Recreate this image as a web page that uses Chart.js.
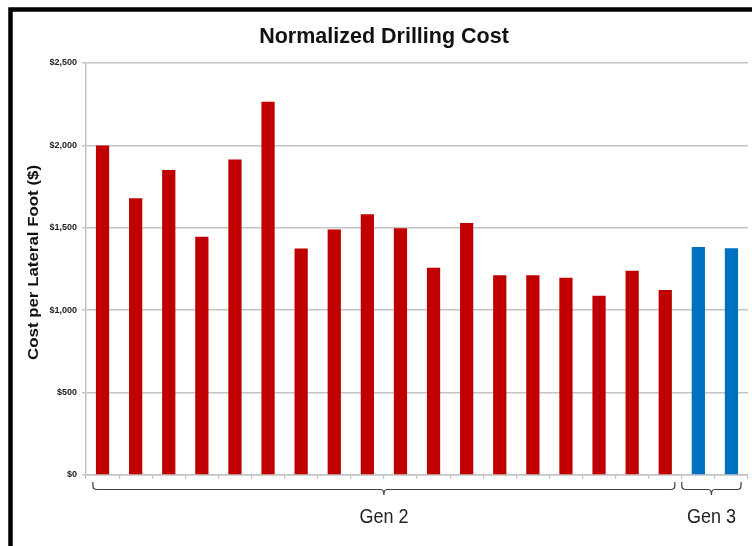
<!DOCTYPE html>
<html>
<head>
<meta charset="utf-8">
<script src="https://cdn.jsdelivr.net/npm/chart.js@4/dist/chart.umd.min.js"></script>
<style>
  html, body { margin: 0; padding: 0; background: #ffffff; }
  #wrap { width: 752px; height: 546px; }
</style>
</head>
<body>
<div id="wrap"><canvas id="c" width="752" height="546"></canvas></div>
<script>
// Normalized drilling cost per lateral foot, one bar per well
const wells = ['1', '2', '3', '4', '5', '6', '7', '8', '9', '10',
               '11', '12', '13', '14', '15', '16', '17', '18', '19', '20'];
const gen2Costs = [2000, 1680, 1850, 1445, 1915, 2265, 1375, 1490, 1582, 1498,
                   1258, 1529, 1212, 1212, 1197, 1088, 1240, 1123];
const gen3Costs = [1384, 1376];
const yTicks = [0, 500, 1000, 1500, 2000, 2500];
const groups = [
  { label: 'Gen 2', from: 0, to: 17 },
  { label: 'Gen 3', from: 18, to: 19 }
];

const GEN2_COLOR = '#C00000';
const GEN3_COLOR = '#0070C0';
const GRID = '#c4c4c4';

const costs = gen2Costs.concat(gen3Costs);
const barColors = costs.map((v, i) => i < gen2Costs.length ? GEN2_COLOR : GEN3_COLOR);

function money(v) {
  return '$' + v.toLocaleString('en-US');
}

// frame, titles and the generation brackets under the axis
const decorations = {
  id: 'decorations',
  beforeDraw(chart) {
    const ctx = chart.ctx;
    ctx.save();
    ctx.fillStyle = '#ffffff';
    ctx.fillRect(0, 0, chart.width, chart.height);
    ctx.restore();
  },
  afterDraw(chart) {
    const ctx = chart.ctx;
    const x = chart.scales.x;
    ctx.save();

    // black frame along top and left
    ctx.strokeStyle = '#000000';
    ctx.lineWidth = 4.5;
    ctx.beginPath();
    ctx.moveTo(10.5, 546);
    ctx.lineTo(10.5, 9.5);
    ctx.lineTo(752, 9.5);
    ctx.stroke();

    // chart title
    ctx.fillStyle = '#111111';
    ctx.font = 'bold 21.5px "Liberation Sans", Arial, sans-serif';
    ctx.textAlign = 'center';
    ctx.textBaseline = 'alphabetic';
    ctx.fillText('Normalized Drilling Cost', 384, 43);

    // y axis title, tall narrow lettering
    const yTitle = 'Cost per Lateral Foot ($)';
    ctx.font = 'bold 14px "Liberation Sans", Arial, sans-serif';
    const w = ctx.measureText(yTitle).width;
    ctx.save();
    ctx.translate(34, 262.5);
    ctx.rotate(-Math.PI / 2);
    ctx.scale(195 / w, 1);
    ctx.textBaseline = 'middle';
    ctx.fillStyle = '#111111';
    ctx.fillText(yTitle, 0, 0);
    ctx.restore();

    // brackets
    const step = x.getPixelForValue(1) - x.getPixelForValue(0);
    ctx.strokeStyle = '#404040';
    ctx.lineWidth = 1.2;
    const top = 482, mid = 489.5, tip = 495, r = 4;
    groups.forEach((g, gi) => {
      const left = x.getPixelForValue(g.from) - step * (gi === 0 ? 0.29 : 0.5);
      const right = x.getPixelForValue(g.to) + step * 0.29;
      const c = (left + right) / 2;
      ctx.beginPath();
      ctx.moveTo(left, top);
      ctx.lineTo(left, mid - r);
      ctx.quadraticCurveTo(left, mid, left + r, mid);
      ctx.lineTo(c - 3, mid);
      ctx.quadraticCurveTo(c, mid, c, tip);
      ctx.quadraticCurveTo(c, mid, c + 3, mid);
      ctx.lineTo(right - r, mid);
      ctx.quadraticCurveTo(right, mid, right, mid - r);
      ctx.lineTo(right, top);
      ctx.stroke();

      ctx.save();
      ctx.translate(c, 523);
      ctx.scale(1, 1.15);
      ctx.font = '18px "Liberation Sans", Arial, sans-serif';
      ctx.fillStyle = '#222222';
      ctx.textAlign = 'center';
      ctx.textBaseline = 'alphabetic';
      ctx.fillText(g.label, 0, 0);
      ctx.restore();
    });

    ctx.restore();
  }
};

new Chart(document.getElementById('c'), {
  type: 'bar',
  data: {
    labels: wells,
    datasets: [{
      data: costs,
      backgroundColor: barColors,
      borderWidth: 0,
      barPercentage: 0.4,
      categoryPercentage: 1.0
    }]
  },
  options: {
    responsive: false,
    animation: false,
    devicePixelRatio: 1,
    layout: { padding: { left: 0, top: 63, right: 4, bottom: 61 } },
    plugins: {
      legend: { display: false },
      title: { display: false },
      tooltip: { enabled: false }
    },
    scales: {
      x: {
        offset: true,
        grid: {
          offset: true,
          drawOnChartArea: false,
          drawTicks: true,
          tickLength: 4,
          color: GRID,
          lineWidth: 1.2
        },
        border: { display: true, color: GRID, width: 1.5 },
        ticks: { display: false },
        afterFit(scale) { scale.height = 10; }
      },
      y: {
        min: 0,
        max: 2500,
        afterBuildTicks(scale) {
          scale.ticks = yTicks.map(v => ({ value: v }));
        },
        grid: {
          color: GRID,
          lineWidth: 1.5,
          drawTicks: true,
          tickLength: 4
        },
        border: { display: true, color: GRID, width: 1.5 },
        ticks: {
          padding: 5,
          color: '#222222',
          font: { family: '"Liberation Sans", Arial, sans-serif', size: 9, weight: 'bold' },
          callback: v => money(v)
        },
        afterFit(scale) { scale.width = 86; }
      }
    }
  },
  plugins: [decorations]
});
</script>
</body>
</html>
